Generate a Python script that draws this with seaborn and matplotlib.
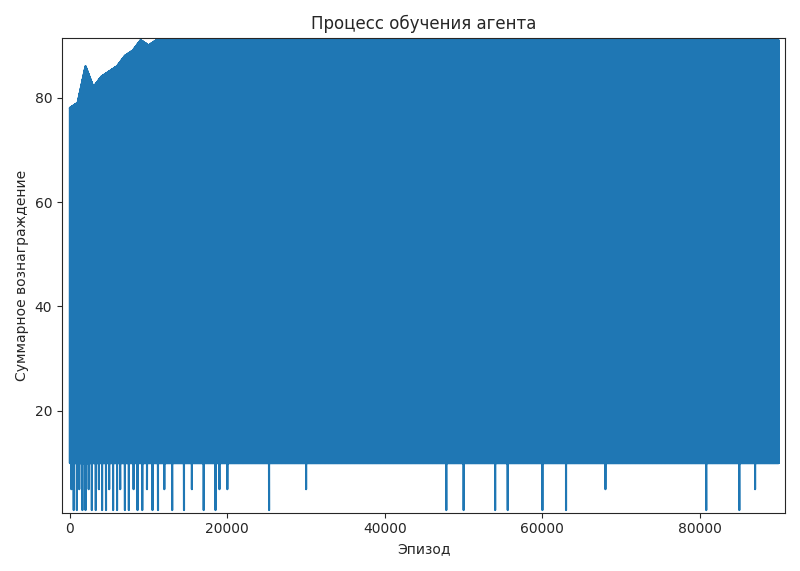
import numpy as np
import matplotlib
matplotlib.use("Agg")
import matplotlib.pyplot as plt
import seaborn as sns

n_episodes = 90000
# upper envelope of the reward
env_x = [0, 1000, 2000, 3000, 4000, 5000, 6000, 7000, 8000, 9000, 10000, 11000, 12000, 90000]
env_y = [78, 79, 86, 82, 84, 85, 86, 88, 89, 91, 90, 91, 91, 91]
floor_value = 10
# deep dips (episode, reward)
dip_eps = [200, 500, 900, 1200, 1600, 2000, 2400, 2800, 3300, 3700, 4100, 4600, 5000, 5500,
           6000, 6400, 7000, 7500, 8100, 8600, 9200, 9800, 10500, 11200, 12000, 13000, 14500,
           15500, 17000, 18500, 19000, 20000, 25300, 30000, 47800, 50000, 54000, 55600,
           60000, 63000, 68000, 80800, 85000, 87000]
dip_vals = [5, 1, 1, 5, 1, 1, 5, 1, 1, 5, 1, 1, 5, 1,
            1, 5, 1, 1, 5, 1, 1, 5, 1, 1, 5, 1, 1,
            5, 1, 1, 5, 5, 1, 5, 1, 1, 1, 1,
            1, 1, 5, 1, 1, 5]

episodes = np.arange(n_episodes)
high = np.interp(episodes, env_x, env_y)
rewards = np.where(episodes % 2 == 0, high, floor_value).astype(float)
for e, v in zip(dip_eps, dip_vals):
    rewards[e + 1] = v

sns.set_style("ticks")
fig, ax = plt.subplots(figsize=(8, 5.71), dpi=100)
ax.plot(episodes, rewards, color="#1f77b4", linewidth=1.5)
ax.set_xlim(-1000, 90800)
ax.set_ylim(0.5, 91.5)
ax.set_yticks([20, 40, 60, 80])
ax.set_title("Процесс обучения агента")
ax.set_xlabel("Эпизод")
ax.set_ylabel("Суммарное вознаграждение")
for s in ax.spines.values():
    s.set_visible(True)
fig.tight_layout()
fig.savefig("out.png")
